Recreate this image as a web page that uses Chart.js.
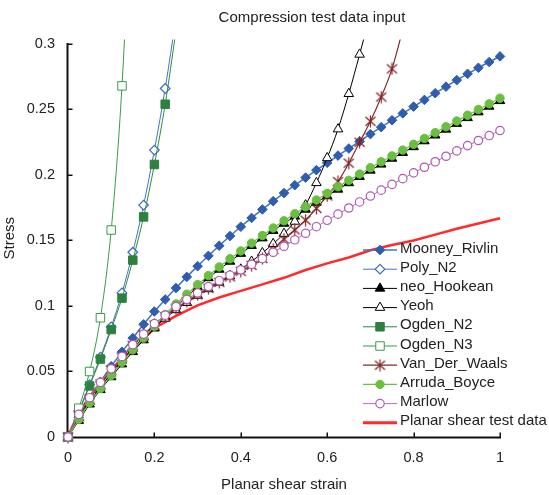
<!DOCTYPE html>
<html>
<head>
<meta charset="utf-8">
<title>Compression test data input</title>
<script src="https://cdn.jsdelivr.net/npm/chart.js@4.4.0/dist/chart.umd.min.js"></script>
<style>
  html, body { margin: 0; padding: 0; background: #fff; }
  canvas { display: block; }
</style>
</head>
<body>
<canvas id="myChart" width="549" height="495"></canvas>
<script>
// strain steps shared by the fitted models
const strain = [0, 0.025, 0.05, 0.075, 0.1, 0.125, 0.15, 0.175, 0.2, 0.225, 0.25, 0.275, 0.3, 0.325, 0.35, 0.375,
  0.4, 0.425, 0.45, 0.475, 0.5, 0.525, 0.55, 0.575, 0.6, 0.625, 0.65, 0.675, 0.7, 0.725, 0.75, 0.775,
  0.8, 0.825, 0.85, 0.875, 0.9, 0.925, 0.95, 0.975, 1];

const mooneyRivlin = [0, 0.015, 0.029, 0.042, 0.054, 0.065, 0.0755, 0.086, 0.0958, 0.105, 0.1137, 0.1222, 0.1304,
  0.1383, 0.146, 0.1534, 0.1605, 0.1672, 0.1737, 0.18, 0.1862, 0.1922, 0.198, 0.2037, 0.2093, 0.2148, 0.2202,
  0.2256, 0.2312, 0.2365, 0.2418, 0.247, 0.2522, 0.2573, 0.2624, 0.2674, 0.2724, 0.2772, 0.2818, 0.2862, 0.2905];
const polyN2 = [0, 0.02, 0.04, 0.061, 0.084, 0.11, 0.141, 0.177, 0.219, 0.266, 0.32];
const neoHookean = [0, 0.0125, 0.025, 0.036, 0.0458, 0.0556, 0.065, 0.074, 0.083, 0.0919, 0.0998, 0.1073, 0.1145,
  0.1214, 0.1279, 0.134, 0.14, 0.146, 0.1518, 0.1575, 0.163, 0.1684, 0.1737, 0.1789, 0.184, 0.189, 0.1939,
  0.1987, 0.2035, 0.2081, 0.2126, 0.217, 0.2214, 0.2259, 0.2303, 0.2348, 0.2392, 0.2436, 0.248, 0.2523, 0.2566];
const yeoh = [0, 0.0145, 0.027, 0.038, 0.0485, 0.0585, 0.0675, 0.076, 0.0835, 0.0905, 0.097, 0.1025, 0.108, 0.113,
  0.118, 0.1228, 0.128, 0.134, 0.1405, 0.1475, 0.1552, 0.1645, 0.177, 0.194, 0.213, 0.235, 0.262, 0.292, 0.323];
const ogdenN2 = [0, 0.019, 0.039, 0.0595, 0.082, 0.106, 0.135, 0.168, 0.208, 0.254, 0.31];
const ogdenN3 = [0, 0.022, 0.05, 0.091, 0.158, 0.268, 0.44];
const vanDerWaals = [0, 0.016, 0.029, 0.0405, 0.051, 0.061, 0.07, 0.078, 0.0855, 0.092, 0.098, 0.1035, 0.1085,
  0.1135, 0.118, 0.1222, 0.1265, 0.131, 0.1362, 0.1432, 0.151, 0.158, 0.1655, 0.1745, 0.184, 0.195, 0.209,
  0.225, 0.241, 0.2595, 0.281, 0.311];
const arrudaBoyce = [0, 0.0135, 0.026, 0.037, 0.047, 0.057, 0.0665, 0.0755, 0.0845, 0.0935, 0.1015, 0.109, 0.1163,
  0.1232, 0.1298, 0.136, 0.142, 0.148, 0.1538, 0.1595, 0.165, 0.1704, 0.1757, 0.1809, 0.186, 0.191, 0.1959,
  0.2007, 0.2055, 0.2101, 0.2146, 0.219, 0.2234, 0.2279, 0.2323, 0.2368, 0.2412, 0.2456, 0.25, 0.2543, 0.2586];
const marlow = [0, 0.0173, 0.03, 0.0417, 0.052, 0.0615, 0.0705, 0.0785, 0.0865, 0.093, 0.0995, 0.105, 0.11,
  0.1148, 0.1193, 0.1235, 0.1276, 0.1318, 0.1362, 0.141, 0.1456, 0.1505, 0.1555, 0.1605, 0.1654, 0.1701,
  0.1748, 0.1794, 0.1839, 0.1884, 0.1928, 0.1972, 0.2016, 0.2059, 0.2101, 0.2143, 0.2184, 0.2224, 0.2263,
  0.2301, 0.2339];

// measured planar shear curve
const testStrain = [0, 0.01, 0.025, 0.05, 0.075, 0.1, 0.125, 0.15, 0.175, 0.2, 0.25, 0.3, 0.35, 0.4, 0.45, 0.5,
  0.55, 0.6, 0.65, 0.7, 0.75, 0.8, 0.85, 0.9, 0.95, 1];
const testStress = [0, 0.008, 0.018, 0.031, 0.041, 0.051, 0.059, 0.067, 0.075, 0.083, 0.0925, 0.1005, 0.1065,
  0.1115, 0.1165, 0.1215, 0.1275, 0.1325, 0.137, 0.1425, 0.1465, 0.15, 0.1545, 0.159, 0.163, 0.167];

const xTicks = [0, 0.2, 0.4, 0.6, 0.8, 1];
const yTicks = [0, 0.05, 0.1, 0.15, 0.2, 0.25, 0.3];

const FONT = '"Liberation Sans", Arial, sans-serif';
const TEXT = '#222';

function pts(xs, ys) {
  return ys.map((v, i) => ({ x: xs[i], y: v }));
}

// asterisk-like marker: an X with a vertical bar
function starMarker(color) {
  const c = document.createElement('canvas');
  c.width = 13; c.height = 13;
  const g = c.getContext('2d');
  g.strokeStyle = color;
  g.lineWidth = 1.2;
  g.beginPath();
  g.moveTo(1.5, 2); g.lineTo(11.5, 11);
  g.moveTo(11.5, 2); g.lineTo(1.5, 11);
  g.moveTo(6.5, 0.5); g.lineTo(6.5, 12.5);
  g.stroke();
  return c;
}

function model(label, ys, line, style, radius, fill, edge, order) {
  return {
    label: label,
    data: pts(strain, ys),
    borderColor: line,
    borderWidth: 1,
    pointStyle: style,
    pointRadius: radius,
    pointBackgroundColor: fill,
    pointBorderColor: edge,
    pointBorderWidth: 1,
    cubicInterpolationMode: 'monotone',
    order: order
  };
}

const datasets = [
  model('Mooney_Rivlin', mooneyRivlin, '#4472C4', 'rectRot', 4.8, '#2F5DAF', '#2F5DAF', 10),
  model('Poly_N2', polyN2, '#4472C4', 'rectRot', 4.8, '#fff', '#3B68C0', 9),
  model('neo_Hookean', neoHookean, '#000', 'triangle', 5.5, '#000', '#000', 8),
  model('Yeoh', yeoh, '#000', 'triangle', 5.5, '#fff', '#000', 7),
  model('Ogden_N2', ogdenN2, '#2E8B3E', 'rect', 6, '#2E8040', '#2E8040', 6),
  model('Ogden_N3', ogdenN3, '#3A9A4A', 'rect', 6, '#fff', '#3A9A4A', 5),
  model('Van_Der_Waals', vanDerWaals, '#7F2A2A', starMarker('#7F2424'), 5, '#7F2424', '#7F2424', 4),
  model('Arruda_Boyce', arrudaBoyce, '#6ABF40', 'circle', 4.2, '#6ABF40', '#6ABF40', 3),
  model('Marlow', marlow, '#B46BB9', 'circle', 4.2, '#fff', '#B05AB5', 2),
  {
    label: 'Planar shear test data',
    data: pts(testStrain, testStress),
    borderColor: '#FF2A2A',
    borderWidth: 2.5,
    pointRadius: 0,
    order: 11
  }
];
datasets[0].borderWidth = 1.5;
datasets[1].pointBorderWidth = 1.2;
datasets[6].borderWidth = 1.2;
datasets[7].borderWidth = 1.2;
datasets[8].pointBorderWidth = 1.2;

// axis lines with inward tick marks
const axesPlugin = {
  id: 'axes',
  beforeDatasetsDraw(chart) {
    const ctx = chart.ctx;
    const xs = chart.scales.x, ys = chart.scales.y;
    const x0 = chart.chartArea.left - 0.5;
    const y0 = chart.chartArea.bottom + 0.5;
    ctx.save();
    ctx.strokeStyle = '#111';
    ctx.lineWidth = 2;
    ctx.beginPath();
    ctx.moveTo(x0, ys.getPixelForValue(yTicks[yTicks.length - 1]) - 1);
    ctx.lineTo(x0, y0 + 1);
    ctx.moveTo(x0 - 1, y0);
    ctx.lineTo(xs.getPixelForValue(xTicks[xTicks.length - 1]) + 1, y0);
    ctx.stroke();
    ctx.lineWidth = 1.5;
    ctx.beginPath();
    yTicks.forEach(v => {
      const p = Math.round(ys.getPixelForValue(v)) + 0.25;
      ctx.moveTo(x0, p);
      ctx.lineTo(x0 + 5, p);
    });
    xTicks.forEach(v => {
      const p = Math.round(xs.getPixelForValue(v)) + 0.25;
      ctx.moveTo(p, y0);
      ctx.lineTo(p, y0 - 5);
    });
    ctx.stroke();
    ctx.restore();
  }
};

// title and legend sitting inside the plot
const labelsPlugin = {
  id: 'labels',
  afterDraw(chart) {
    const ctx = chart.ctx;
    ctx.save();
    ctx.font = '15px ' + FONT;
    ctx.fillStyle = TEXT;
    ctx.textAlign = 'center';
    ctx.textBaseline = 'middle';
    ctx.fillText('Compression test data input', 312, 18);

    ctx.textAlign = 'left';
    chart.data.datasets.forEach((ds, row) => {
      const y = 250 + row * 19.2;
      ctx.strokeStyle = ds.borderColor;
      ctx.lineWidth = ds.borderWidth === 2.5 ? 3 : ds.borderWidth;
      ctx.beginPath();
      ctx.moveTo(363, y);
      ctx.lineTo(397, y);
      ctx.stroke();
      if (ds.pointRadius > 0 && Chart.helpers && Chart.helpers.drawPoint) {
        ctx.fillStyle = ds.pointBackgroundColor;
        ctx.strokeStyle = ds.pointBorderColor;
        ctx.lineWidth = ds.pointBorderWidth;
        Chart.helpers.drawPoint(ctx, {
          pointStyle: ds.pointStyle,
          radius: ds.pointRadius,
          rotation: 0,
          borderWidth: ds.pointBorderWidth
        }, 380, y);
      }
      ctx.fillStyle = TEXT;
      ctx.fillText(ds.label, 400, y - 1.5);
    });
    ctx.restore();
  }
};

Chart.defaults.font.family = FONT;
Chart.defaults.font.size = 15;
Chart.defaults.color = TEXT;

new Chart(document.getElementById('myChart'), {
  type: 'line',
  data: { datasets: datasets },
  options: {
    responsive: false,
    animation: false,
    devicePixelRatio: 1,
    events: [],
    layout: { padding: { top: 39.5, right: 49, left: 0, bottom: 0 } },
    elements: { line: { capBezierPoints: false } },
    datasets: { line: { clip: { left: 12, top: 0, right: 12, bottom: 12 } } },
    plugins: {
      legend: { display: false },
      title: { display: false },
      tooltip: { enabled: false }
    },
    scales: {
      x: {
        type: 'linear',
        min: 0,
        max: 1,
        afterBuildTicks: s => { s.ticks = xTicks.map(v => ({ value: v })); },
        afterFit: s => { s.height = 58; },
        grid: { display: false, drawTicks: false },
        border: { display: false },
        ticks: { padding: 12, font: { size: 14.5 }, callback: v => String(v) },
        title: { display: true, text: 'Planar shear strain', padding: { top: 0, bottom: 1 } }
      },
      y: {
        type: 'linear',
        min: 0,
        max: 0.3034,
        afterBuildTicks: s => { s.ticks = yTicks.map(v => ({ value: v })); },
        afterFit: s => { s.width = 68; },
        grid: { display: false, drawTicks: false },
        border: { display: false },
        ticks: { padding: 13, font: { size: 14.5 }, callback: v => String(v) },
        title: { display: true, text: 'Stress', padding: { top: 1, bottom: 0 } }
      }
    }
  },
  plugins: [axesPlugin, labelsPlugin]
});
</script>
</body>
</html>
